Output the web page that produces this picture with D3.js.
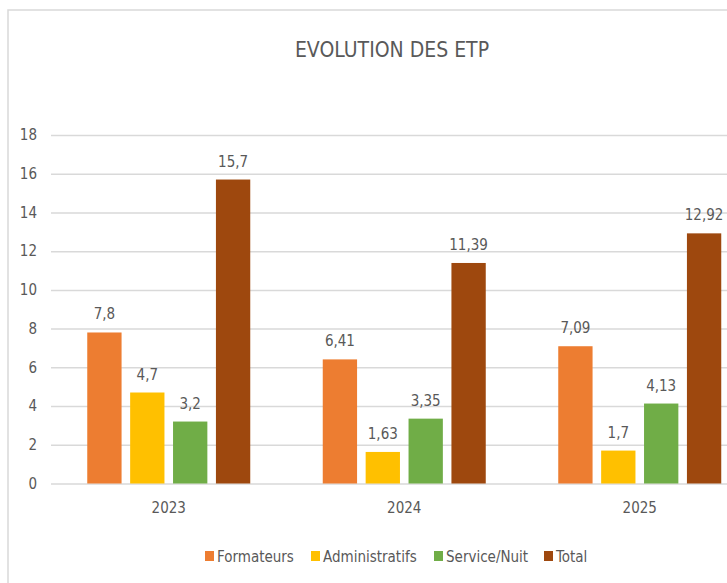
<!DOCTYPE html>
<html>
<head>
<meta charset="utf-8">
<script src="https://cdn.jsdelivr.net/npm/d3@7"></script>
<style>
	body { margin: 0; background: #fff; }
	text { font-family: "Liberation Sans Narrow", "DejaVu Sans Condensed", "Open Sans", sans-serif; fill: #595959; }
</style>
</head>
<body>
<div id="chart"></div>
<script>
const years = ['2023', '2024', '2025'];
const seriesNames = ['Formateurs', 'Administratifs', 'Service/Nuit', 'Total'];
const seriesColors = ['#ED7D31', '#FFC000', '#70AD47', '#9E480E'];
const formateurs = [7.8, 6.41, 7.09];
const administratifs = [4.7, 1.63, 1.7];
const serviceNuit = [3.2, 3.35, 4.13];
const total = [15.7, 11.39, 12.92];
const yTicks = [0, 2, 4, 6, 8, 10, 12, 14, 16, 18];

const seriesValues = [formateurs, administratifs, serviceNuit, total];

const width = 727, height = 583;
const margin = { top: 135, left: 51, bottom: 99.5 };
const plotWidth = 3 * 235.5;
const plotHeight = height - margin.top - margin.bottom;

const svg = d3.select('#chart').append('svg')
	.attr('width', width)
	.attr('height', height);

// outer chart border (cropped on the right)
svg.append('rect')
	.attr('x', 8).attr('y', 10)
	.attr('width', 780).attr('height', 600)
	.attr('fill', 'none')
	.attr('stroke', '#d9d9d9')
	.attr('stroke-width', 1.5);

svg.append('text')
	.attr('x', 392)
	.attr('y', 57)
	.attr('text-anchor', 'middle')
	.style('font-size', '21px')
	.text('EVOLUTION DES ETP');

const g = svg.append('g').attr('transform', `translate(${margin.left}, ${margin.top})`);

// scales
const xScale = d3.scaleBand().domain(years).range([0, plotWidth]);
const innerWidth = 163;
const xInner = d3.scaleBand().domain(seriesNames).range([0, innerWidth]).paddingInner(0.2);
const yScale = d3.scaleLinear().domain([0, 18]).range([plotHeight, 0]);

// gridlines + y axis labels
const yAxis = d3.axisLeft(yScale).tickValues(yTicks).tickSize(-plotWidth).tickPadding(14).tickFormat(d3.format('d'));
const yAxisG = g.append('g').call(yAxis);
yAxisG.select('.domain').remove();
yAxisG.selectAll('line').attr('stroke', '#d9d9d9').attr('stroke-width', 1.5);
yAxisG.selectAll('text').style('font-size', '15px').attr('fill', '#595959');

// x axis labels
const xAxis = d3.axisBottom(xScale).tickSize(0).tickPadding(19);
const xAxisG = g.append('g').attr('transform', `translate(0, ${plotHeight})`).call(xAxis);
xAxisG.select('.domain').remove();
xAxisG.selectAll('text').style('font-size', '15px').attr('fill', '#595959');

// bars
const rows = [];
years.forEach((year, i) => {
	seriesNames.forEach((name, j) => {
		rows.push({ year, name, value: seriesValues[j][i], color: seriesColors[j] });
	});
});

const offset = (xScale.bandwidth() - innerWidth) / 2;
const fmt = v => String(v).replace('.', ',');

g.selectAll('.bar')
	.data(rows)
	.join('rect')
	.attr('class', 'bar')
	.attr('x', d => xScale(d.year) + offset + xInner(d.name))
	.attr('y', d => yScale(d.value))
	.attr('width', xInner.bandwidth())
	.attr('height', d => plotHeight - yScale(d.value))
	.attr('fill', d => d.color);

g.selectAll('.label')
	.data(rows)
	.join('text')
	.attr('class', 'label')
	.attr('x', d => xScale(d.year) + offset + xInner(d.name) + xInner.bandwidth() / 2)
	.attr('y', d => yScale(d.value) - 13)
	.attr('text-anchor', 'middle')
	.style('font-size', '15px')
	.text(d => fmt(d.value));

// legend
const legendX = [205, 311, 434, 544];
const legend = svg.append('g').attr('transform', 'translate(0, 556)');
const items = legend.selectAll('g')
	.data(seriesNames)
	.join('g')
	.attr('transform', (d, i) => `translate(${legendX[i]}, 0)`);
items.append('rect')
	.attr('x', 0).attr('y', -5)
	.attr('width', 9).attr('height', 10)
	.attr('fill', (d, i) => seriesColors[i]);
items.append('text')
	.attr('x', 12)
	.attr('y', 5.5)
	.style('font-size', '15px')
	.text(d => d);
</script>
</body>
</html>
